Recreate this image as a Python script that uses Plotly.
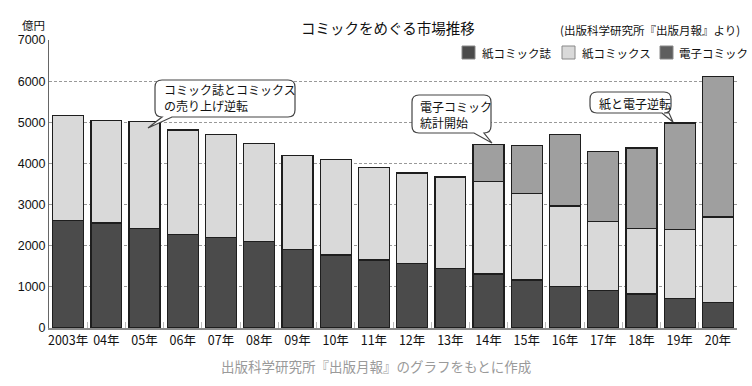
import plotly.graph_objects as go

years = ["2003年", "04年", "05年", "06年", "07年", "08年", "09年", "10年", "11年",
         "12年", "13年", "14年", "15年", "16年", "17年", "18年", "19年", "20年"]
magazine = [2611, 2549, 2421, 2277, 2204, 2111, 1913, 1776, 1650, 1564, 1438,
            1313, 1166, 1016, 917, 824, 722, 621]
comics = [2549, 2498, 2602, 2533, 2495, 2372, 2274, 2315, 2253, 2202, 2231,
          2256, 2102, 1947, 1666, 1588, 1665, 2079]
digital = [None, None, None, None, None, None, None, None, None, None, None,
           887, 1169, 1737, 1711, 1965, 2593, 3420]
y_ticks = [0, 1000, 2000, 3000, 4000, 5000, 6000, 7000]
series_names = ["紙コミック誌", "紙コミックス", "電子コミック"]
bar_colors = ["#4b4b4b", "#d9d9d9", "#9f9f9f"]
legend_colors = ["#4b4b4b", "#d9d9d9", "#5e5e5e"]

FONT = "Liberation Sans, Arial, Noto Sans CJK JP"
JP = "Noto Sans CJK JP, Liberation Sans"

W, H = 752, 386
L, R, T, B = 49, 15, 40, 58
PW, PH = W - L - R, H - T - B


def px(x):
    return (x - L) / PW


def py(y):
    return (H - B - y) / PH


fig = go.Figure()
line = dict(color="#1e1e1e", width=1.3)
for nm, vals, col in zip(series_names, [magazine, comics, digital], bar_colors):
    fig.add_trace(go.Bar(x=years, y=vals, name=nm,
                         marker=dict(color=col, line=line), showlegend=False))

# manual legend
for (x0, tx), nm, col in zip([(462, 480), (562, 580), (660, 677)], series_names, legend_colors):
    fig.add_shape(type="rect", xref="paper", yref="paper",
                  x0=px(x0), x1=px(x0 + 13), y0=py(59), y1=py(46),
                  fillcolor=col, line=dict(color="#888", width=1))
    fig.add_annotation(x=px(tx), y=py(53), xref="paper", yref="paper", text=nm,
                       showarrow=False, xanchor="left", yanchor="middle",
                       font=dict(family=JP, size=11.5, color="#111"))


def callout(x0, y0, x1, y1, tail, r=7):
    xa, xb, tx, ty = tail
    d = (f"M {px(x0 + r)},{py(y0)} L {px(x1 - r)},{py(y0)} "
         f"Q {px(x1)},{py(y0)} {px(x1)},{py(y0 + r)} "
         f"L {px(x1)},{py(y1 - r)} Q {px(x1)},{py(y1)} {px(x1 - r)},{py(y1)} "
         f"L {px(xb)},{py(y1)} L {px(tx)},{py(ty)} L {px(xa)},{py(y1)} "
         f"L {px(x0 + r)},{py(y1)} Q {px(x0)},{py(y1)} {px(x0)},{py(y1 - r)} "
         f"L {px(x0)},{py(y0 + r)} Q {px(x0)},{py(y0)} {px(x0 + r)},{py(y0)} Z")
    fig.add_shape(type="path", path=d, xref="paper", yref="paper",
                  line=dict(color="#444", width=1.2), fillcolor="white", layer="above")


callout(155, 80, 295, 117, (162, 172, 148, 128))
callout(412, 95, 491, 133, (474, 484, 492, 143))
callout(590, 92, 671, 113, (662, 669, 673, 122))

ann = [
    dict(x=px(162), y=py(98), text="コミック誌とコミックス<br>の売り上げ逆転"),
    dict(x=px(418), y=py(114), text="電子コミック<br>統計開始"),
    dict(x=px(597), y=py(103), text="紙と電子逆転"),
]
for a in ann:
    fig.add_annotation(x=a["x"], y=a["y"], xref="paper", yref="paper", text=a["text"],
                       showarrow=False, xanchor="left", yanchor="middle", align="left",
                       font=dict(family=JP, size=12, color="#111"))

fig.add_annotation(x=px(388), y=py(27), xref="paper", yref="paper",
                   xanchor="center", yanchor="middle",
                   text="コミックをめぐる市場推移", showarrow=False,
                   font=dict(family=JP, size=14.5, color="#111"))
fig.add_annotation(x=px(742), y=py(30), xref="paper", yref="paper",
                   xanchor="right", yanchor="middle",
                   text="(出版科学研究所『出版月報』より)", showarrow=False,
                   font=dict(family=JP, size=11.5, color="#111"))
fig.add_annotation(x=px(33), y=py(25), xref="paper", yref="paper",
                   xanchor="center", yanchor="middle",
                   text="億円", showarrow=False,
                   font=dict(family=JP, size=11.5, color="#111"))
fig.add_annotation(x=px(376), y=py(366), xref="paper", yref="paper",
                   xanchor="center", yanchor="middle",
                   text="出版科学研究所『出版月報』のグラフをもとに作成", showarrow=False,
                   font=dict(family=JP, size=13.5, color="#9a9a9a"))

fig.update_layout(
    width=W, height=H, margin=dict(l=L, r=R, t=T, b=B, autoexpand=False),
    barmode="stack", bargap=0.19,
    paper_bgcolor="white", plot_bgcolor="white",
    font=dict(family=FONT, size=12, color="#111"),
    showlegend=False,
    xaxis=dict(type="category", showline=True, linecolor="#8a8a8a", linewidth=1.5,
               ticks="inside", tickson="boundaries", ticklen=6, tickcolor="#bbb",
               tickangle=0, automargin=False,
               tickfont=dict(family=JP, size=12.5, color="#111"), showgrid=False),
    yaxis=dict(range=[0, 7000], tickvals=y_ticks, showline=True, linecolor="#666",
               linewidth=1, showgrid=True, gridcolor="#999", griddash="3px,2px",
               gridwidth=1, zeroline=False, ticks="", ticklen=0, ticklabelstandoff=0,
               automargin=False,
               tickfont=dict(family=FONT, size=12.5, color="#111")),
)

fig.write_html("out.html", config={"displayModeBar": False},
               post_script="document.body.style.margin='0';document.body.style.padding='0';")
